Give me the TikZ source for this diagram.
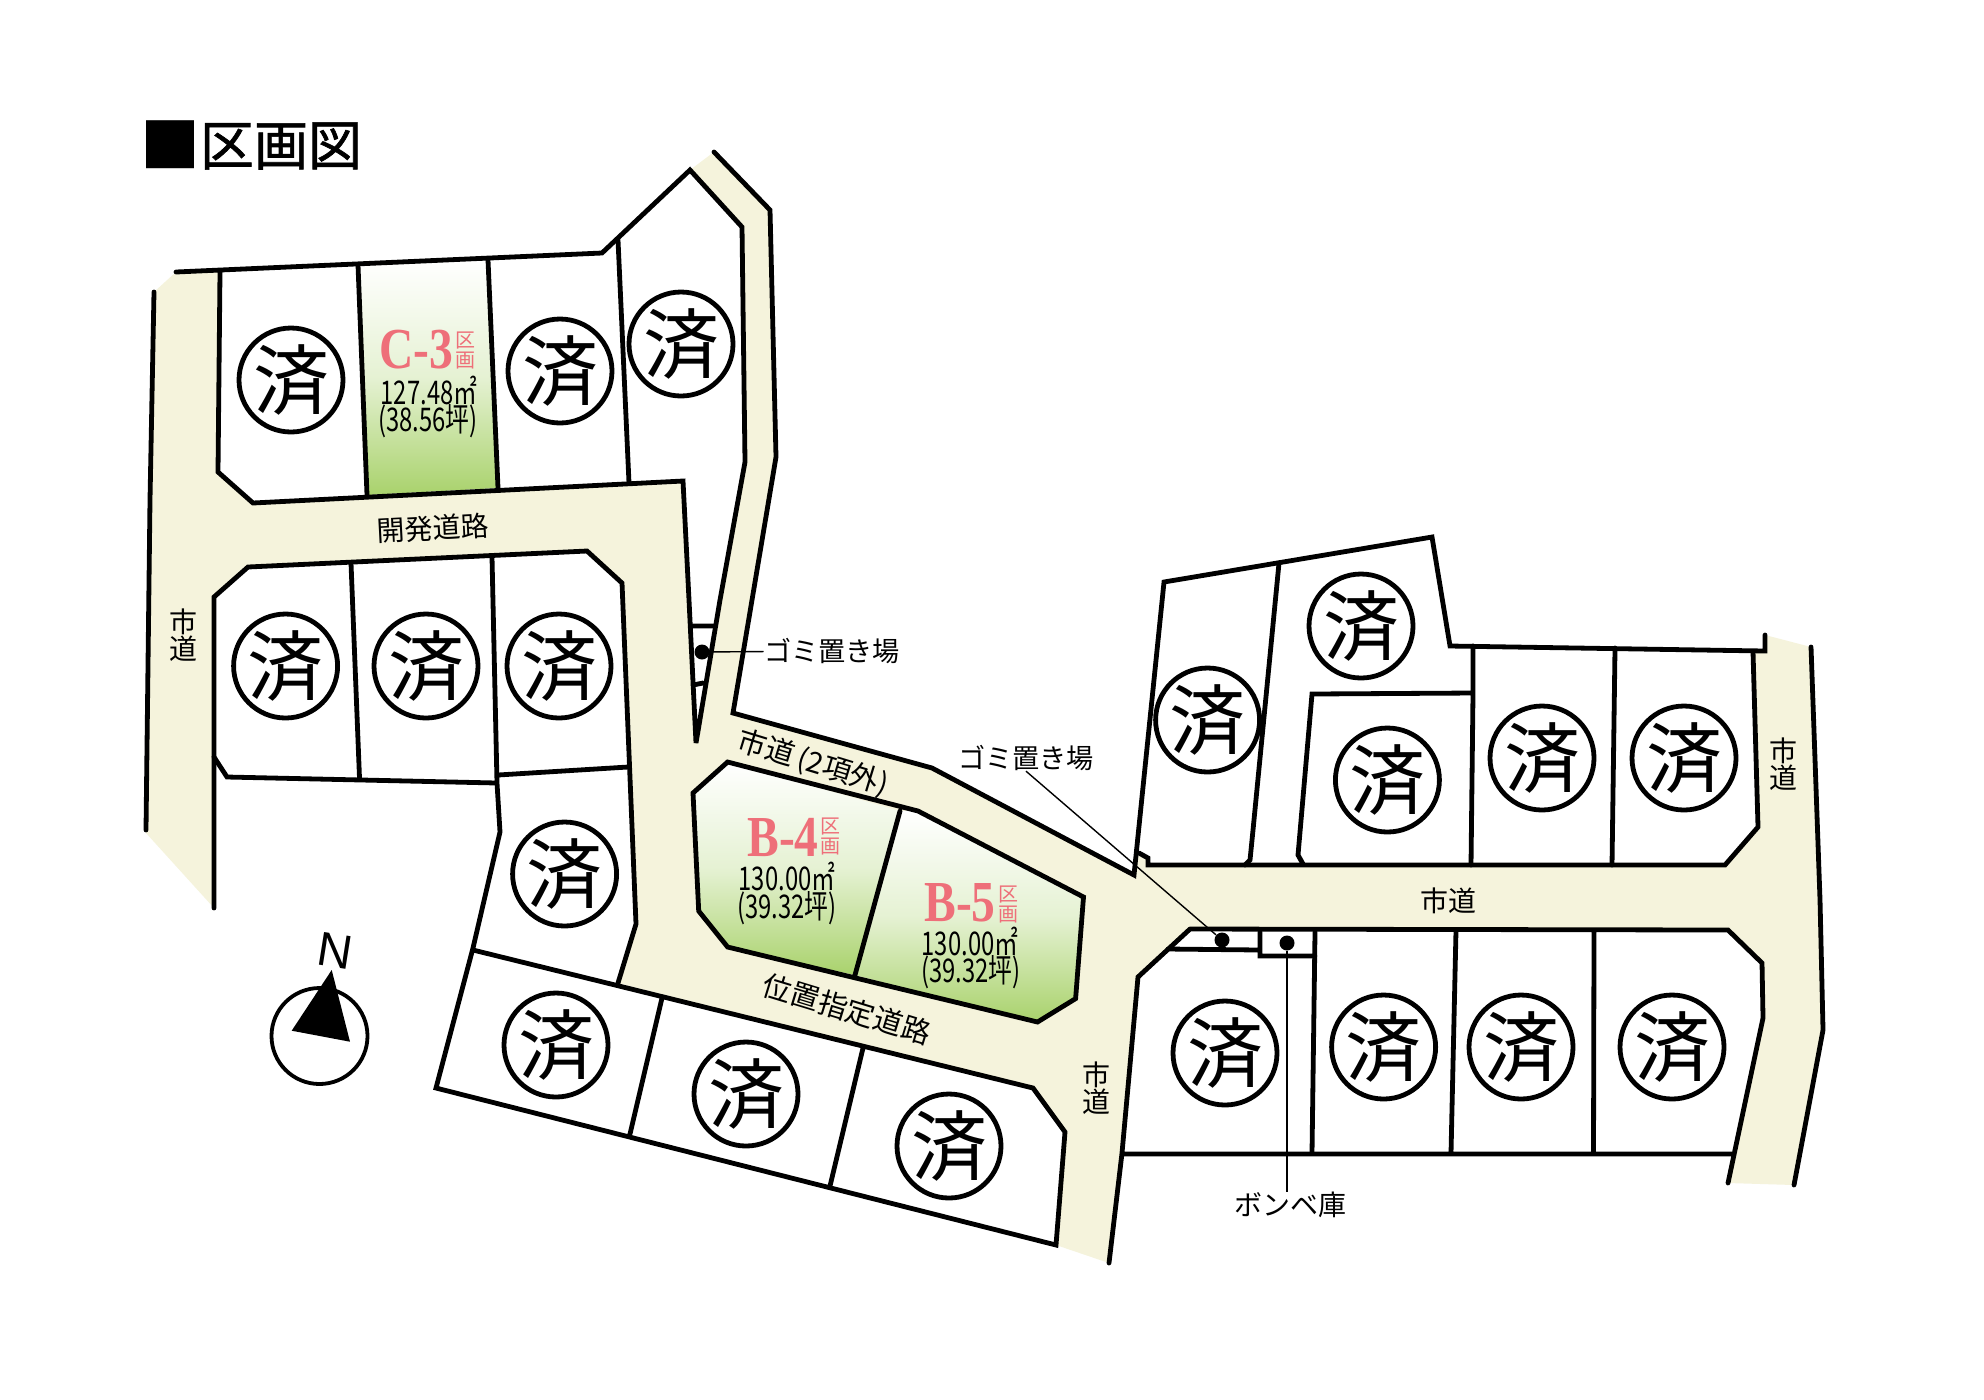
\documentclass[tikz,border=0pt]{standalone}
\usepackage{fontspec}
\setmainfont{Noto Sans CJK JP}
\newfontfamily\serf{Liberation Serif}
\newfontfamily\libs{Liberation Sans}
\newfontfamily\titlef[FakeBold=1.2]{Noto Sans CJK JP}
\definecolor{road}{HTML}{F5F3DC}
\definecolor{lotgreen}{HTML}{A9D26C}
\definecolor{lotred}{HTML}{EE6F79}
\newcommand{\nar}[1]{\scalebox{.73}[1]{#1}}
\newcommand{\sernar}[1]{\scalebox{.82}[1]{#1}}
\tikzset{
  wall/.style={line width=2.4pt,line join=miter,miter limit=2,line cap=round},
  leader/.style={line width=.7pt},
  sold/.style={circle,draw,line width=2.4pt,minimum size=52pt,inner sep=0pt,font=\fontsize{38}{38}\selectfont},
  lab/.style={inner sep=0pt,font=\fontsize{14}{14}\selectfont},
  gomilab/.style={inner sep=0pt,font=\fontsize{13.6}{13.6}\selectfont},
  vlab/.style={inner sep=0pt,align=center,font=\fontsize{14}{13.6}\selectfont},
  area/.style={inner sep=0pt,font=\fontsize{16.3}{16.3}\selectfont},
  lotname/.style={inner sep=0pt,text=lotred,font=\serf\bfseries\fontsize{29}{29}\selectfont},
  ku/.style={inner sep=0pt,align=center,text=lotred,font=\fontsize{10}{10}\selectfont},
  dot/.style={circle,fill,inner sep=0pt,minimum size=7.5pt},
  lot/.style={top color=white,bottom color=lotgreen,middle color=lotgreen!30!white}
}
\begin{document}
\begin{tikzpicture}[x=0.5pt,y=-0.5pt]
\useasboundingbox (0,0) rectangle (1984,1399);
\fill[white] (0,0) rectangle (1984,1399);
% road surface
\fill[road] (146,833)--(150,500)--(154,292)--(176,272)--(602,253)--(690,170)--(714,152)--(770,210)--(776,457)--(752,600)--(733,713)--(932,768)--(1134,875)--(1139,853)--(1148,858)--(1148,865)--(1725,865)--(1758,827)--(1753,652)--(1765,652)--(1765,635)--(1811,647)--(1820,900)--(1823,1030)--(1794,1185)--(1728,1183)--(1763,1018)--(1762,963)--(1728,930)--(1190,929)--(1138,977)--(1122,1153)--(1109,1263)--(1056,1245)--(1065,1132)--(1033,1088)--(618,983)--(636,924)--(630,766)--(622,583)--(587,551)--(248,567)--(214,597)--(214,908)--cycle;
% north-west lots
\fill[white] (220,272)--(602,253)--(690,170)--(742,227)--(745,462)--(720,600)--(696,743)--(689,600)--(683,481)--(253,503)--(218,472)--cycle;
\shade[lot] (358,265)--(488,260)--(498,488)--(367,495)--cycle;
% B lots
\shade[lot] (727.6,762)--(900,811)--(855,975)--(727.6,947)--(698.7,911)--(693,793)--cycle;
\shade[lot] (900,811)--(918,811)--(1083.5,897)--(1075.6,998.6)--(1037.5,1022)--(855,975)--cycle;
% walls
\draw[wall] (176,272)--(602,253)--(690,170)--(742,227)--(745,462)--(720,600)--(696,743)--(689,600)--(683,481)--(253,503)--(218,472)--(220,272);
\draw[wall] (358,265)--(367,495) (488,260)--(498,488) (618,240)--(629,483);
\draw[wall] (691,626)--(715,626) (693,685)--(703,683);
\draw[wall] (714,152)--(770,210)--(776,457)--(752,600)--(733,713)--(932,768)--(1134,875)--(1164,582)--(1432,537)--(1450,646)--(1765,651)--(1765,635);
\draw[wall] (1139,853)--(1148,858)--(1148,865)--(1725,865)--(1758,827)--(1753,652);
\draw[wall] (1279,563)--(1253,830)--(1250,860)--(1245,865) (1473,646)--(1473,693)--(1471,865) (1615,648)--(1612,865) (1473,693)--(1312,694)--(1298,855)--(1303,864);
\draw[wall] (154,292)--(150,500)--(146,830);
\draw[wall] (214,908)--(214,597)--(248,567)--(587,551)--(622,583)--(636,924)--(618,983);
\draw[wall] (214,757)--(227,777)--(497,783) (351,563)--(359.5,778) (492,557)--(497,783)--(500,832)--(473,948)--(436,1088)--(1056,1245)--(1065,1132)--(1033,1088)--(473,950) (498,775)--(628,767) (662,998)--(630,1134) (863,1048)--(830,1186);
\draw[wall] (727.6,762)--(918,811)--(1083.5,897)--(1075.6,998.6)--(1037.5,1022)--(727.6,947)--(698.7,911)--(693,793)--cycle (900,811)--(855,975);
\draw[wall] (1190,929)--(1728,930)--(1762,963)--(1763,1018)--(1728,1183) (1190,929)--(1138,977)--(1122,1153)--(1109,1263) (1122,1154)--(1732,1154) (1456,930)--(1451,1153) (1594,930)--(1593.5,1153);
\draw[wall] (1811,647)--(1820,900)--(1823,1030)--(1794,1185);
\draw[wall] (1168,949)--(1260,950) (1260,932)--(1260,956)--(1315,956) (1315,932)--(1312,1153);
% title
\node[inner sep=0pt,font=\bfseries\fontsize{30}{30}\selectfont] (titlebox) at (170,145) {■};
\node[inner sep=0pt,font=\titlef\fontsize{27}{27}\selectfont] (title) at (281,146) {区画図};
% sold marks
\node[sold] (s1) at (291,380) {済};
\node[sold] (s2) at (560,371) {済};
\node[sold] (s3) at (681,344) {済};
\node[sold] (s4) at (285.6,666) {済};
\node[sold] (s5) at (426,666) {済};
\node[sold] (s6) at (559,666) {済};
\node[sold] (s7) at (564.6,874) {済};
\node[sold] (s8) at (556,1045) {済};
\node[sold] (s9) at (746,1094) {済};
\node[sold] (s10) at (949,1146) {済};
\node[sold] (s11) at (1361,626) {済};
\node[sold] (s12) at (1207.6,720) {済};
\node[sold] (s13) at (1387.4,780) {済};
\node[sold] (s14) at (1542,758) {済};
\node[sold] (s15) at (1684,758) {済};
\node[sold] (s16) at (1225,1053) {済};
\node[sold] (s17) at (1383.6,1047) {済};
\node[sold] (s18) at (1521,1047) {済};
\node[sold] (s19) at (1672,1047) {済};
% lot labels
\node[lotname] (c3) at (416,350) {\sernar{C-3}};
\node[ku] (c3k) at (465,350) {区\\画};
\node[area] (c3a) at (429,390) {\nar{127.48㎡}};
\node[area] (c3b) at (428,421) {\nar{(38.56坪)}};
\node[lotname] (b4) at (783,837) {\sernar{B-4}};
\node[ku] (b4k) at (830,836) {区\\画};
\node[area] (b4a) at (787,876) {\nar{130.00㎡}};
\node[area] (b4b) at (787,908) {\nar{(39.32坪)}};
\node[lotname] (b5) at (960,903) {\sernar{B-5}};
\node[ku] (b5k) at (1008,904) {区\\画};
\node[area] (b5a) at (970,941) {\nar{130.00㎡}};
\node[area] (b5b) at (971,972) {\nar{(39.32坪)}};
% road labels
\node[lab,rotate=3] (dev) at (433,528) {開発道路};
\node[vlab] (west) at (183,635) {市\\道};
\node[lab,rotate=-17,font=\fontsize{14.5}{14.5}\selectfont] (r2) at (813,763) {市道\,(2項外)};
\node[lab,rotate=-17,font=\fontsize{14.5}{14.5}\selectfont] (pos) at (847,1009) {位置指定道路};
\node[vlab] (south) at (1096,1088) {市\\道};
\node[vlab] (eastr) at (1783,764) {市\\道};
\node[lab] (mid) at (1448,901) {市道};
% refuse points and cylinder store
\node[dot] (g1) at (702,652) {};
\node[gomilab] (g1l) at (832,651) {ゴミ置き場};
\draw[leader] (g1)--(g1l);
\node[dot] (g2) at (1222,940) {};
\node[gomilab] (g2l) at (1026,758) {ゴミ置き場};
\draw[leader] (g2l.south)--(g2);
\node[dot] (bb) at (1287,943) {};
\node[lab] (bbl) at (1290,1205) {ボンベ庫};
\draw[leader] (bb)--(bb|-bbl.north);
% compass
\node[circle,draw,line width=1.9pt,minimum size=48pt,inner sep=0pt] (comp) at (319.5,1036) {};
\fill (331.7,970)--(291.7,1030.7)--(350,1041.7)--cycle;
\node[inner sep=0pt,rotate=-9,font=\libs\fontsize{24}{24}\selectfont] (north) at (335,951) {N};
\end{tikzpicture}
\end{document}
